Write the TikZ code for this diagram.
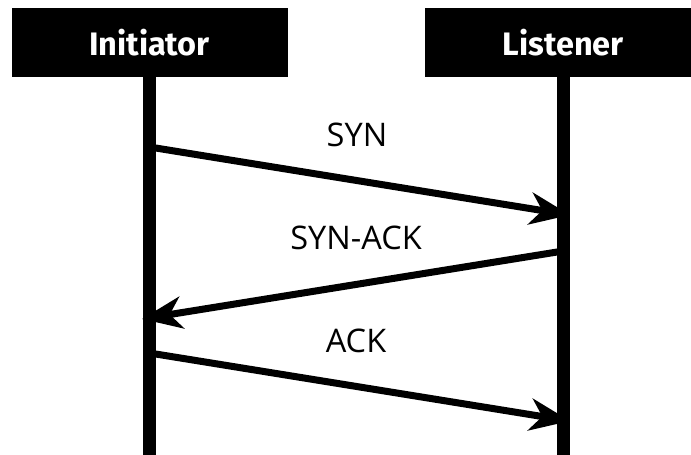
\documentclass[tikz,border=0pt]{standalone}
\usepackage{fontspec}
\setmainfont{Fira Sans}
\newfontfamily\labelfont{Open Sans}
\usetikzlibrary{arrows.meta}
\begin{document}
\begin{tikzpicture}[x=1pt,y=-1pt,
  party/.style={fill=black,text=white,minimum width=276pt,minimum height=69pt,
    inner sep=0pt,font=\fontsize{32.5}{38}\selectfont\bfseries},
  lifeline/.style={line width=13.5pt},
  msg/.style={line width=7pt,-{Stealth[length=40pt,width=32pt,inset=12pt]}},
  msglabel/.style={font=\labelfont\fontsize{32.5}{38}\selectfont,inner sep=0pt}]
  \useasboundingbox (0,0) rectangle (691,455);
  \clip (0,0) rectangle (691,455);
  % participants
  \node[party] (init) at (149.5,42.5) {Initiator};
  \node[party] (list) at (563.3,42.5) {Listener};
  % lifeline ends
  \coordinate (initEnd) at (149.5,460);
  \coordinate (listEnd) at (563.3,460);
  \draw[lifeline] (init.south) -- (initEnd);
  \draw[lifeline] (list.south) -- (listEnd);
  % message end points
  \coordinate (synA) at (149.5,147);
  \coordinate (synB) at (570,215);
  \coordinate (sakA) at (563.3,251);
  \coordinate (sakB) at (142,319);
  \coordinate (ackA) at (149.5,353);
  \coordinate (ackB) at (570,421);
  % messages
  \draw[msg] (synA) -- (synB);
  \draw[msg] (sakA) -- (sakB);
  \draw[msg] (ackA) -- (ackB);
  % labels
  \node[msglabel] (synL) at (357,134.5) {SYN};
  \node[msglabel] (sakL) at (356,237.5) {SYN-ACK};
  \node[msglabel] (ackL) at (356,341) {ACK};
\end{tikzpicture}
\end{document}
